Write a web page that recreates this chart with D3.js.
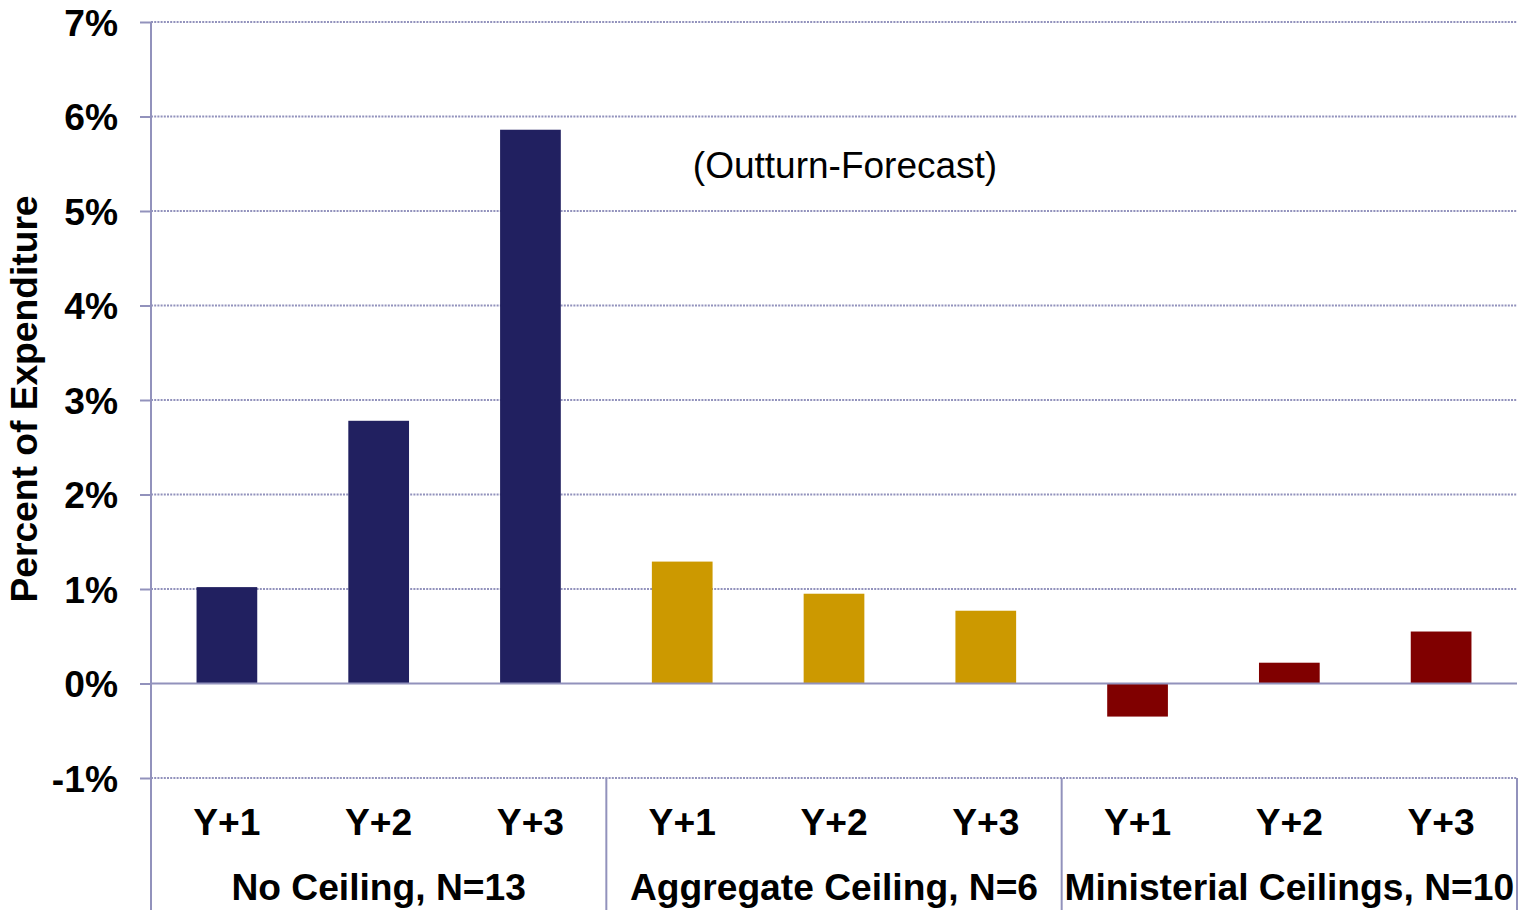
<!DOCTYPE html>
<html>
<head>
<meta charset="utf-8">
<script src="https://cdn.jsdelivr.net/npm/d3@7"></script>
<style>
  html, body { margin: 0; padding: 0; background: #fff; }
  svg { display: block; }
  text { font-family: "Liberation Sans", Arial, sans-serif; fill: #000; }
</style>
</head>
<body>
<svg id="chart" width="1518" height="915"></svg>
<script>
// Forecast error (outturn minus forecast) by ceiling regime and horizon
const groups = ["No Ceiling, N=13", "Aggregate Ceiling, N=6", "Ministerial Ceilings, N=10"];
const horizons = ["Y+1", "Y+2", "Y+3"];
const noCeiling = [1.02, 2.78, 5.86];
const aggregateCeiling = [1.29, 0.95, 0.77];
const ministerialCeilings = [-0.35, 0.22, 0.55];
const groupColors = ["#212060", "#CC9900", "#800000"];
const yTicks = [-1, 0, 1, 2, 3, 4, 5, 6, 7];
const annotation = "(Outturn-Forecast)";
const yTitle = "Percent of Expenditure";

const seriesByGroup = [noCeiling, aggregateCeiling, ministerialCeilings];
const bars = [];
groups.forEach((g, gi) => {
  horizons.forEach((h, hi) => {
    bars.push({ key: gi + "|" + h, group: gi, horizon: h, value: seriesByGroup[gi][hi] });
  });
});

const svg = d3.select("#chart");
const plotLeft = 151, plotRight = 1517, plotTop = 22, plotBottom = 778, labelBottom = 910;
const axisColor = "#9292bc";
const labelSize = 37.2;

const x = d3.scaleBand().domain(bars.map(d => d.key)).range([plotLeft, plotRight]).padding(0);
const y = d3.scaleLinear().domain([-1, 7]).range([plotBottom, plotTop]);
const barW = x.bandwidth() * 0.4;

// gridlines
svg.append("g").selectAll("line")
  .data(yTicks.filter(t => t !== 0))
  .join("line")
  .attr("x1", plotLeft).attr("x2", plotRight)
  .attr("y1", d => y(d)).attr("y2", d => y(d))
  .attr("stroke", axisColor).attr("stroke-width", 2)
  .attr("stroke-dasharray", "2,1.2");

// bars
svg.append("g").selectAll("rect")
  .data(bars)
  .join("rect")
  .attr("x", d => x(d.key) + (x.bandwidth() - barW) / 2)
  .attr("width", barW)
  .attr("y", d => y(Math.max(0, d.value)))
  .attr("height", d => Math.abs(y(d.value) - y(0)))
  .attr("fill", d => groupColors[d.group]);

// zero line
svg.append("line")
  .attr("x1", plotLeft).attr("x2", plotRight)
  .attr("y1", y(0)).attr("y2", y(0))
  .attr("stroke", axisColor).attr("stroke-width", 2);

// y axis
const yAxis = d3.axisLeft(y).tickValues(yTicks).tickFormat(d => d + "%").tickSize(11).tickPadding(22);
const yg = svg.append("g").attr("transform", `translate(${plotLeft},0)`).call(yAxis);
yg.select(".domain").remove();
yg.selectAll(".tick line").attr("stroke", axisColor).attr("stroke-width", 2);
yg.selectAll(".tick text")
  .attr("font-size", labelSize).attr("font-weight", "bold")
  .attr("font-family", "'Liberation Sans', Arial, sans-serif")
  .attr("fill", "#000").attr("dy", "0.35em");

// vertical axis line running through the category label area
svg.append("line")
  .attr("x1", plotLeft).attr("x2", plotLeft).attr("y1", plotTop).attr("y2", labelBottom)
  .attr("stroke", axisColor).attr("stroke-width", 2);

// group separators below the plot
const sepX = groups.map((g, gi) => x(gi + "|" + horizons[2]) + x.bandwidth());
svg.append("g").selectAll("line")
  .data(sepX)
  .join("line")
  .attr("x1", d => d).attr("x2", d => d)
  .attr("y1", plotBottom).attr("y2", labelBottom)
  .attr("stroke", axisColor).attr("stroke-width", 2);

// horizon labels
svg.append("g").selectAll("text")
  .data(bars)
  .join("text")
  .attr("x", d => x(d.key) + x.bandwidth() / 2)
  .attr("y", 835)
  .attr("text-anchor", "middle")
  .attr("font-size", labelSize).attr("font-weight", "bold")
  .text(d => d.horizon);

// group labels
svg.append("g").selectAll("text")
  .data(groups)
  .join("text")
  .attr("x", (g, gi) => (x(gi + "|" + horizons[0]) + x(gi + "|" + horizons[2]) + x.bandwidth()) / 2)
  .attr("y", 900)
  .attr("text-anchor", "middle")
  .attr("font-size", labelSize).attr("font-weight", "bold")
  .text(d => d);

// y axis title
svg.append("text")
  .attr("transform", "translate(37,399) rotate(-90)")
  .attr("text-anchor", "middle")
  .attr("font-size", labelSize).attr("font-weight", "bold")
  .text(yTitle);

// annotation
svg.append("text")
  .attr("x", 845).attr("y", 178)
  .attr("text-anchor", "middle")
  .attr("font-size", 37)
  .text(annotation);
</script>
</body>
</html>
